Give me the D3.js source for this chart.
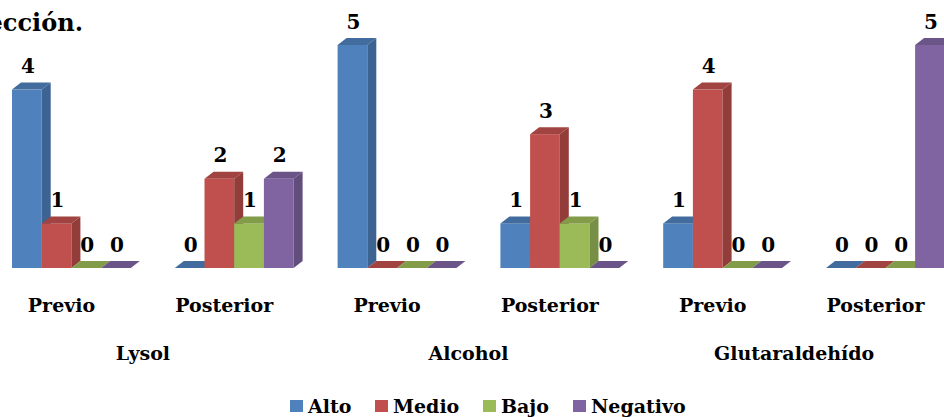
<!DOCTYPE html>
<html>
<head>
<meta charset="utf-8">
<style>
  body { margin: 0; background: #fff; }
  text { font-family: "DejaVu Serif", serif; font-weight: bold; fill: #000; }
</style>
</head>
<body>
<svg width="944" height="417"></svg>
<script src="https://cdn.jsdelivr.net/npm/d3@7"></script>
<script>
// data
var groups = ["Lysol", "Alcohol", "Glutaraldehído"];
var phases = ["Previo", "Posterior", "Previo", "Posterior", "Previo", "Posterior"];
var series = ["Alto", "Medio", "Bajo", "Negativo"];
var alto     = [4, 0, 5, 1, 1, 0];
var medio    = [1, 2, 0, 3, 4, 0];
var bajo     = [0, 1, 0, 1, 0, 0];
var negativo = [0, 2, 0, 0, 0, 5];
var colors = ["#4F81BD", "#C0504D", "#9BBB59", "#8064A2"];

var values = [alto, medio, bajo, negativo];

var svg = d3.select("svg");
var base = 268, dx = 9, dy = -7;

var x = d3.scaleBand().domain(d3.range(phases.length)).range([-19.9, 956.9]);
var xs = d3.scaleBand().domain(series).range([-49.5, 69.3]);
var y = d3.scaleLinear().domain([0, 5]).range([base, 45]);
var color = d3.scaleOrdinal().domain(series).range(colors);

// title (cut off in the source)
svg.append("text").attr("x", 83).attr("y", 31)
  .attr("text-anchor", "end").style("font-size", "24px")
  .text("ección.");

var bars = [];
phases.forEach(function(p, i) {
  series.forEach(function(s, j) {
    bars.push({cat: i, s: s, v: values[j][i]});
  });
});

var g = svg.append("g");
bars.forEach(function(d) {
  var cx = x(d.cat) + x.bandwidth() / 2;
  var x0 = cx + xs(d.s), w = xs.bandwidth(), yt = y(d.v);
  var c = d3.color(color(d.s));
  var b = g.append("g");
  b.append("rect").attr("x", x0).attr("y", yt)
    .attr("width", w).attr("height", base - yt)
    .attr("fill", c);
  b.append("path")
    .attr("d", "M" + (x0 + w) + "," + yt + "L" + (x0 + w + dx) + "," + (yt + dy) +
      "L" + (x0 + w + dx) + "," + (base + dy) + "L" + (x0 + w) + "," + base + "Z")
    .attr("fill", c.darker(0.75));
  b.append("path")
    .attr("d", "M" + x0 + "," + yt + "L" + (x0 + dx) + "," + (yt + dy) +
      "L" + (x0 + w + dx) + "," + (yt + dy) + "L" + (x0 + w) + "," + yt + "Z")
    .attr("fill", c.darker(0.5));
  svg.append("text")
    .attr("x", x0 + w / 2 + 1).attr("y", yt - 16.5)
    .attr("text-anchor", "middle").style("font-size", "20px")
    .text(d.v);
});

// category labels
svg.selectAll(".phase").data(phases).enter().append("text")
  .attr("class", "phase")
  .attr("x", function(d, i) { return x(i) + x.bandwidth() / 2; })
  .attr("y", 312).attr("text-anchor", "middle").style("font-size", "19px")
  .text(function(d) { return d; });

svg.selectAll(".grp").data(groups).enter().append("text")
  .attr("class", "grp")
  .attr("x", function(d, i) { return x(i * 2 + 1); })
  .attr("y", 360).attr("text-anchor", "middle").style("font-size", "19px")
  .text(function(d) { return d; });

// legend
var legX = [290, 375, 483, 573];
var leg = svg.selectAll(".leg").data(series).enter().append("g")
  .attr("transform", function(d, i) { return "translate(" + legX[i] + ",400)"; });
leg.append("rect").attr("width", 13).attr("height", 12)
  .attr("fill", function(d) { return color(d); });
leg.append("text").attr("x", 18).attr("y", 13).style("font-size", "19px")
  .text(function(d) { return d; });
</script>
</body>
</html>
